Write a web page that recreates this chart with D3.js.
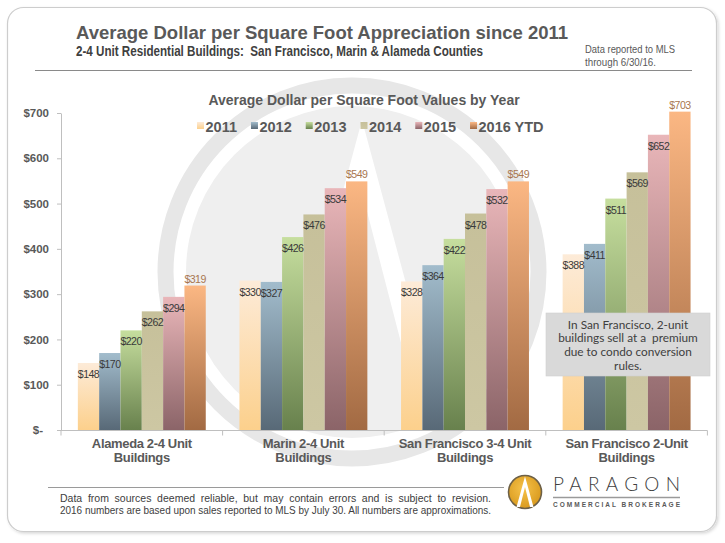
<!DOCTYPE html>
<html><head><meta charset="utf-8">
<script src="https://cdn.jsdelivr.net/npm/d3@7/dist/d3.min.js"></script>
<style>
body{margin:0;background:#fff;}
svg{display:block;font-family:"Liberation Sans",Arial,Helvetica,sans-serif;}
</style></head><body>
<svg id="chart" width="725" height="543"></svg>
<script>
// ---------------- DATA ----------------
const categories = ["Alameda 2-4 Unit\nBuildings", "Marin 2-4 Unit\nBuildings", "San Francisco 3-4 Unit\nBuildings", "San Francisco 2-Unit\nBuildings"];
const years = ["2011", "2012", "2013", "2014", "2015", "2016 YTD"];
const values2011 = [148, 330, 328, 388];
const values2012 = [170, 327, 364, 411];
const values2013 = [220, 426, 422, 511];
const values2014 = [262, 476, 478, 569];
const values2015 = [294, 534, 532, 652];
const values2016 = [319, 549, 549, 703];
const yTickValues = [0, 100, 200, 300, 400, 500, 600, 700];
const titleText = "Average Dollar per Square Foot Appreciation since 2011";
const subtitleText = "2-4 Unit Residential Buildings:  San Francisco, Marin & Alameda Counties";
const noteLines = ["Data reported to MLS", "through 6/30/16."];
const chartTitleText = "Average Dollar per Square Foot Values by Year";
const annotationLines = ["In San Francisco, 2-unit", "buildings sell at a  premium", "due to condo conversion", "rules."];
const footerLines = ["Data from sources deemed reliable, but may contain errors and is subject to revision.",
                     "2016 numbers are based upon sales reported to MLS by July 30. All numbers  are approximations."];

const seriesValues = [values2011, values2012, values2013, values2014, values2015, values2016];

// ---------------- STYLE ----------------
const topColors = ["#fdebd8", "#a2bccc", "#c6de9e", "#c6c09a", "#e9b6b9", "#fbb783"];
const bottomColors = ["#fcd08c", "#586977", "#68814d", "#cdc7a3", "#8b6468", "#a26a43"];
const SANS = '"Liberation Sans", Arial, Helvetica, sans-serif';
const NARROW = '"Liberation Sans Narrow", "Arial Narrow", "Liberation Sans", Arial, sans-serif';

const svg = d3.select("#chart");
const defs = svg.append("defs");

const flt = defs.append("filter").attr("id", "shadow").attr("x", "-5%").attr("y", "-5%").attr("width", "110%").attr("height", "110%");
flt.append("feDropShadow").attr("dx", 1.5).attr("dy", 1.5).attr("stdDeviation", 1.5).attr("flood-color", "#000").attr("flood-opacity", 0.16);

years.forEach((yr, i) => {
  const g = defs.append("linearGradient").attr("id", "grad" + i).attr("x1", 0).attr("y1", 0).attr("x2", 0).attr("y2", 1);
  g.append("stop").attr("offset", "0%").attr("stop-color", topColors[i]);
  g.append("stop").attr("offset", "100%").attr("stop-color", bottomColors[i]);
});
const goldGrad = defs.append("radialGradient").attr("id", "gold").attr("cx", "45%").attr("cy", "40%").attr("r", "60%");
goldGrad.append("stop").attr("offset", "0%").attr("stop-color", "#f6c24a");
goldGrad.append("stop").attr("offset", "100%").attr("stop-color", "#d99a1e");

// outer frame
svg.append("rect").attr("x", 7.5).attr("y", 7.5).attr("width", 709).attr("height", 524).attr("rx", 16)
  .attr("fill", "#fff").attr("stroke", "#cdcdcd").attr("stroke-width", 1.2).attr("filter", "url(#shadow)");

// watermark
const wcx = 352, wcy = 272;
const wm = svg.append("g");
defs.append("clipPath").attr("id", "diskclip").append("circle").attr("cx", wcx).attr("cy", wcy).attr("r", 166);
wm.append("circle").attr("cx", wcx).attr("cy", wcy).attr("r", 186.5).attr("fill", "none").attr("stroke", "#e7e7e7").attr("stroke-width", 16);
wm.append("circle").attr("cx", wcx).attr("cy", wcy).attr("r", 166).attr("fill", "#efefef");
wm.append("path").attr("clip-path", "url(#diskclip)").attr("fill", "#fff")
  .attr("d", `M${wcx + 10},${wcy - 152} L${wcx - 78},${wcy + 175} L${wcx - 56},${wcy + 175} L${wcx + 10},${wcy - 80} L${wcx + 76},${wcy + 175} L${wcx + 98},${wcy + 175} Z`);

// header
svg.append("text").attr("x", 76).attr("y", 38.5).attr("font-size", 18.5).attr("font-weight", "bold").attr("fill", "#595959").attr("font-family", SANS).text(titleText);

function fitText(sel, target, justify) {
  const node = sel.node();
  const w = node.getComputedTextLength();
  if (w > target) {
    sel.attr("textLength", target).attr("lengthAdjust", "spacingAndGlyphs");
  } else if (justify) {
    const spaces = (sel.text().match(/ /g) || []).length;
    if (spaces) sel.attr("word-spacing", (target - w) / spaces);
  }
}
const sub = svg.append("text").attr("x", 76).attr("y", 56).attr("font-size", 14).attr("font-weight", "bold")
  .attr("fill", "#404040").attr("font-family", NARROW).attr("xml:space", "preserve").text(subtitleText);
fitText(sub, 407, false);

noteLines.forEach((t, i) => {
  const n = svg.append("text").attr("x", 585).attr("y", 53 + i * 12.5).attr("font-size", 11).attr("fill", "#595959").attr("font-family", NARROW).text(t);
  fitText(n, i === 0 ? 90 : 71, false);
});
svg.append("line").attr("x1", 35).attr("x2", 692).attr("y1", 70.5).attr("y2", 70.5).attr("stroke", "#8a8a8a").attr("stroke-width", 1);

// chart title
svg.append("text").attr("x", 364).attr("y", 105).attr("text-anchor", "middle").attr("font-size", 14).attr("font-weight", "bold")
  .attr("fill", "#595959").attr("font-family", SANS).text(chartTitleText);

// scales
const x0 = d3.scaleBand().domain(categories).range([61, 707.4]).paddingInner(0).paddingOuter(0);
const x1 = d3.scaleBand().domain(years).range([0, x0.bandwidth()]).paddingInner(0).paddingOuter(0.79);
const y = d3.scaleLinear().domain([0, 700]).range([430, 113]);

// y axis
const gy = svg.append("g").attr("transform", "translate(61,0)")
  .call(d3.axisLeft(y).tickValues(yTickValues).tickSize(4).tickSizeOuter(0).tickPadding(8)
    .tickFormat(d => d === 0 ? "$-" : "$" + d));
gy.select(".domain").attr("stroke", "#bfbfbf");
gy.selectAll(".tick line").attr("stroke", "#bfbfbf");
gy.selectAll(".tick text").attr("font-size", 11.5).attr("font-weight", "bold").attr("fill", "#595959").attr("font-family", SANS);
gy.selectAll(".tick text").filter(d => d === 0).attr("dx", -6);

// bars
const groups = svg.append("g").selectAll("g").data(categories).join("g")
  .attr("transform", d => `translate(${x0(d)},0)`);
groups.each(function (cat, ci) {
  const g = d3.select(this);
  years.forEach((yr, si) => {
    const v = seriesValues[si][ci];
    g.append("rect").attr("x", x1(yr)).attr("y", y(v)).attr("width", x1.bandwidth()).attr("height", y(0) - y(v))
      .attr("fill", `url(#grad${si})`);
  });
});
groups.each(function (cat, ci) {
  const g = d3.select(this);
  years.forEach((yr, si) => {
    const v = seriesValues[si][ci];
    const outside = si === years.length - 1;
    g.append("text").attr("x", x1(yr) + x1.bandwidth() / 2).attr("y", outside ? y(v) - 3 : y(v) + 15)
      .attr("text-anchor", "middle").attr("font-size", 10.6).attr("letter-spacing", -0.55).attr("font-family", SANS)
      .attr("fill", outside ? "#a8764f" : "#3a3a3a").text("$" + v);
  });
});

// x axis
const gx = svg.append("g");
gx.append("line").attr("x1", 61).attr("x2", x0.range()[1]).attr("y1", 430.5).attr("y2", 430.5).attr("stroke", "#bfbfbf");
const bounds = categories.map(c => x0(c)).concat([x0.range()[1]]);
gx.selectAll("line.tk").data(bounds).join("line").attr("class", "tk")
  .attr("x1", d => d).attr("x2", d => d).attr("y1", 430.5).attr("y2", 435.5).attr("stroke", "#bfbfbf");
const catLabels = gx.selectAll("text.cat").data(categories).join("text").attr("class", "cat")
  .attr("text-anchor", "middle").attr("font-size", 13).attr("font-weight", "bold").attr("letter-spacing", -0.35)
  .attr("fill", "#595959").attr("font-family", SANS);
catLabels.each(function (d) {
  const t = d3.select(this);
  d.split("\n").forEach((line, li) => {
    t.append("tspan").attr("x", x0(d) + x0.bandwidth() / 2).attr("y", 447.5 + li * 14.8).text(line);
  });
});

// legend
const legend = svg.append("g");
let lx = 197;
years.forEach((yr, i) => {
  legend.append("rect").attr("x", lx).attr("y", 122).attr("width", 7).attr("height", 7).attr("fill", `url(#grad${i})`);
  const t = legend.append("text").attr("x", lx + 8.5).attr("y", 132).attr("font-size", 14.5).attr("font-weight", "bold")
    .attr("fill", "#595959").attr("font-family", SANS).text(yr);
  lx += 8.5 + t.node().getComputedTextLength() + 14;
});

// annotation
svg.append("rect").attr("x", 546).attr("y", 313).attr("width", 164).attr("height", 63).attr("fill", "#d9d9d9")
  .attr("stroke", "#cfcfcf").attr("stroke-width", 0.6);
annotationLines.forEach((t, i) => {
  svg.append("text").attr("x", 628).attr("y", 328.5 + i * 13.7).attr("text-anchor", "middle").attr("font-size", 11.8)
    .attr("fill", "#404040").attr("font-family", 'Lato, "Open Sans", sans-serif').attr("xml:space", "preserve").text(t);
});

// footer
svg.append("line").attr("x1", 48).attr("x2", 504).attr("y1", 487.5).attr("y2", 487.5).attr("stroke", "#9a9a9a");
footerLines.forEach((t, i) => {
  const n = svg.append("text").attr("x", 60).attr("y", 502 + i * 12).attr("font-size", 10.5).attr("fill", "#404040")
    .attr("font-family", NARROW).text(t);
  fitText(n, 431, true);
});

// logo
const logo = svg.append("g");
logo.append("circle").attr("cx", 525).attr("cy", 492).attr("r", 16.5).attr("fill", "url(#gold)").attr("stroke", "#6d6047").attr("stroke-width", 1.6);
logo.append("path").attr("fill", "#fff").attr("d", "M525,476.5 L516.5,507 L520,507 L525,487 L530,507 L533.5,507 Z");
const pg = logo.append("text").attr("x", 553).attr("y", 491).attr("font-size", 19).attr("font-weight", 300).attr("fill", "#404040")
  .attr("font-family", 'Lato, "Open Sans", sans-serif').text("PARAGON");
pg.attr("textLength", 127).attr("lengthAdjust", "spacing");
logo.append("line").attr("x1", 553).attr("x2", 680).attr("y1", 497.5).attr("y2", 497.5).attr("stroke", "#9a9a9a").attr("stroke-width", 1.4);
logo.append("text").attr("x", 553).attr("y", 507).attr("font-size", 6.5).attr("font-weight", "bold").attr("fill", "#595959")
  .attr("font-family", SANS).attr("textLength", 127).attr("lengthAdjust", "spacing").text("COMMERCIAL BROKERAGE");
</script>
</body></html>
